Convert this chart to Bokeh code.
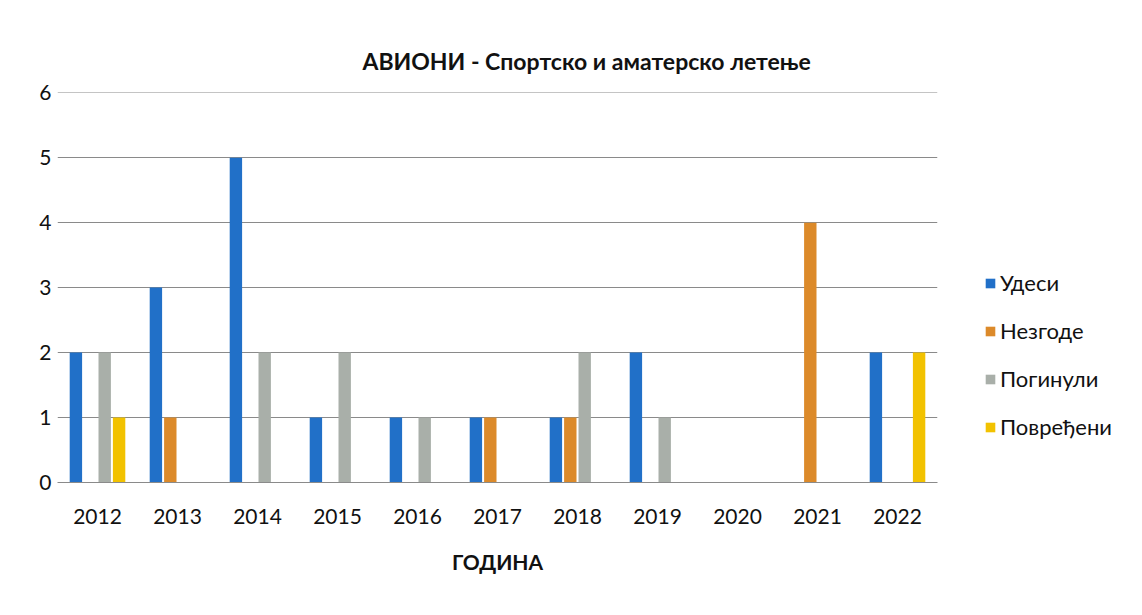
from bokeh.plotting import figure
from bokeh.models import ColumnDataSource, Legend, LegendItem, Title, Range1d
from bokeh.transform import dodge
from bokeh.embed import file_html
from bokeh.resources import INLINE

years = ["2012", "2013", "2014", "2015", "2016", "2017", "2018", "2019", "2020", "2021", "2022"]
udesi = [2, 3, 5, 1, 1, 1, 1, 2, 0, 0, 2]
nezgode = [0, 1, 0, 0, 0, 1, 1, 0, 0, 4, 0]
poginuli = [2, 0, 2, 2, 1, 0, 2, 1, 0, 0, 0]
povredjeni = [1, 0, 0, 0, 0, 0, 0, 0, 0, 0, 2]
series_names = ["Удеси", "Незгоде", "Погинули", "Повређени"]
colors = ["#2170C8", "#DC8A2A", "#A9AFA9", "#F2C200"]

src = ColumnDataSource(dict(year=years, udesi=udesi, nezgode=nezgode,
                            poginuli=poginuli, povredjeni=povredjeni))

FONT = "Lato"
p = figure(x_range=years, y_range=Range1d(0, 6.003), width=1126, height=599,
           output_backend="svg", toolbar_location=None,
           min_border_left=57, min_border_top=92, min_border_right=189,
           min_border_bottom=117, frame_width=880, frame_height=390)
p.title = None
t = Title(text="АВИОНИ - Спортско и аматерско летење", align="left", offset=305,
          text_font=FONT, text_font_size="23px", text_font_style="bold",
          text_color="#111111", standoff=36)
p.add_layout(t, "above")

cols = ["udesi", "nezgode", "poginuli", "povredjeni"]
offsets = [-0.27, -0.09, 0.09, 0.27]
items = []
for c, off, col, name in zip(cols, offsets, colors, series_names):
    r = p.vbar(x=dodge("year", off, range=p.x_range), top=c, width=0.155,
               source=src, fill_color=col, line_color=None)
    items.append(LegendItem(label=name, renderers=[r]))

legend = Legend(items=items, location=(47, 42), orientation="vertical",
                label_text_font=FONT, label_text_font_size="22px",
                label_text_color="#111111", glyph_width=12, glyph_height=12,
                spacing=21, padding=0, margin=0, border_line_color=None,
                background_fill_alpha=0, label_standoff=4)
p.add_layout(legend, "right")

p.outline_line_color = None
p.xgrid.grid_line_color = None
p.ygrid.grid_line_color = "#8A8A8A"
p.ygrid.grid_line_width = 1
p.yaxis.axis_line_color = None
p.yaxis.major_tick_line_color = None
p.yaxis.minor_tick_line_color = None
p.yaxis.major_tick_out = 0
p.yaxis.major_tick_in = 0
p.yaxis.ticker = [0, 1, 2, 3, 4, 5, 6]
p.yaxis.major_label_text_font = FONT
p.yaxis.major_label_text_font_size = "21px"
p.yaxis.major_label_text_color = "#111111"
p.yaxis.major_label_standoff = 6

p.xaxis.axis_line_color = "#8A8A8A"
p.xaxis.major_tick_line_color = None
p.xaxis.minor_tick_line_color = None
p.xaxis.major_tick_out = 0
p.xaxis.major_tick_in = 0
p.xaxis.major_label_text_font = FONT
p.xaxis.major_label_text_font_size = "21px"
p.xaxis.major_label_text_color = "#111111"
p.xaxis.major_label_standoff = 26
p.xaxis.axis_label = "ГОДИНА"
p.xaxis.axis_label_text_font = FONT
p.xaxis.axis_label_text_font_size = "21px"
p.xaxis.axis_label_text_font_style = "bold"
p.xaxis.axis_label_text_color = "#111111"
p.xaxis.axis_label_standoff = 22
p.x_range.range_padding = 0

open("out.html", "w").write(file_html(p, INLINE))
